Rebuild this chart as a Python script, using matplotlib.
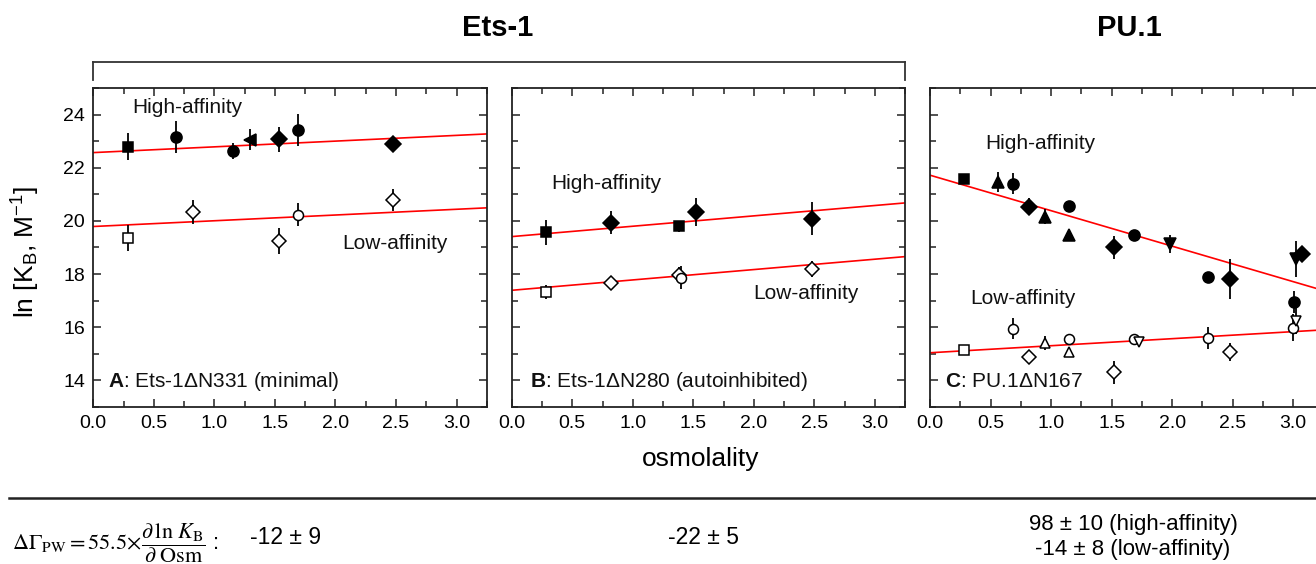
import matplotlib.pyplot as plt
from matplotlib.lines import Line2D
from matplotlib.ticker import MultipleLocator

plt.rcParams['font.family'] = ['Liberation Sans', 'DejaVu Sans']
plt.rcParams['mathtext.fontset'] = 'custom'
plt.rcParams['mathtext.rm'] = 'Liberation Sans'
plt.rcParams['mathtext.it'] = 'Liberation Sans:italic'
plt.rcParams['mathtext.bf'] = 'Liberation Sans:bold'

# --- panel A: Ets-1 dN331 (minimal) ---
a_hi_x = [0.285, 0.685, 1.155, 1.298, 1.533, 1.69, 2.477]
a_hi_y = [22.79, 23.14, 22.62, 23.06, 23.07, 23.41, 22.91]
a_hi_err = [0.5, 0.6, 0.3, 0.4, 0.48, 0.6, 0.15]
a_hi_sym = ['s', 'o', 'o', '<', 'D', 'o', 'D']
a_lo_x = [0.285, 0.823, 1.533, 1.69, 2.477]
a_lo_y = [19.35, 20.33, 19.24, 20.24, 20.79]
a_lo_err = [0.49, 0.45, 0.5, 0.45, 0.42]
a_lo_sym = ['s', 'D', 'D', 'o', 'D']
a_fit = [(22.57, 0.216), (19.79, 0.216)]  # (intercept, slope)

# --- panel B: Ets-1 dN280 (autoinhibited) ---
b_hi_x = [0.282, 0.823, 1.38, 1.524, 2.477]
b_hi_y = [19.58, 19.94, 19.79, 20.33, 20.09]
b_hi_err = [0.47, 0.43, 0.22, 0.54, 0.62]
b_hi_sym = ['s', 'D', 's', 'D', 'D']
b_lo_x = [0.282, 0.823, 1.38, 1.40, 2.477]
b_lo_y = [17.33, 17.66, 17.97, 17.87, 18.19]
b_lo_err = [0.27, 0.26, 0.3, 0.42, 0.3]
b_lo_sym = ['s', 'D', 'D', 'o', 'D']
b_fit = [(19.41, 0.39), (17.39, 0.39)]

# --- panel C: PU.1 dN167 ---
c_hi_x = [0.282, 0.563, 0.682, 0.82, 0.953, 1.152, 1.152, 1.519, 1.685, 1.98,
          2.292, 2.48, 3.024, 3.071, 3.005]
c_hi_y = [21.56, 21.45, 21.40, 20.54, 20.16, 20.56, 19.47, 19.0, 19.47, 19.14,
          17.89, 17.82, 18.57, 18.76, 16.95]
c_hi_err = [0.1, 0.38, 0.4, 0.32, 0.27, 0.1, 0.1, 0.44, 0.1, 0.34,
            0.15, 0.76, 0.68, 0.2, 0.4]
c_hi_sym = ['s', '^', 'o', 'D', '^', 'o', '^', 'D', 'o', 'v', 'o', 'D', 'v', 'D', 'o']
c_lo_x = [0.282, 0.682, 0.82, 0.953, 1.152, 1.152, 1.519, 1.685, 1.73, 2.292,
          2.48, 2.997, 3.024]
c_lo_y = [15.16, 15.95, 14.89, 15.41, 15.54, 15.06, 14.31, 15.57, 15.45, 15.6,
          15.08, 15.98, 16.23]
c_lo_err = [0.15, 0.39, 0.25, 0.25, 0.22, 0.1, 0.43, 0.1, 0.1, 0.41, 0.34, 0.5, 0.5]
c_lo_sym = ['s', 'o', 'D', '^', 'o', '^', 'D', 'o', 'v', 'o', 'D', 'o', 'v']
c_fit = [(21.72, -1.335), (15.04, 0.265)]

panel_titles = [r'$\mathbf{A}$: Ets-1ΔN331 (minimal)',
                r'$\mathbf{B}$: Ets-1ΔN280 (autoinhibited)',
                r'$\mathbf{C}$: PU.1ΔN167']
dgamma = ['-12 ± 9', '-22 ± 5', '98 ± 10 (high-affinity)\n-14 ± 8 (low-affinity)']

W, H = 1316, 564
fig = plt.figure(figsize=(W / 100, H / 100), dpi=100)

def fx(px):
    return px / W

def fy(py):
    return 1 - py / H

lefts = [93.3, 511.7, 930]
axw = 393.5
XMAX = 3.25
ink = '#222222'

def draw_points(ax, xs, ys, errs, syms, filled):
    for x, y, e, s in zip(xs, ys, errs, syms):
        ms = {'s': 7.5, 'o': 8, 'D': 7.8, '^': 8.5, 'v': 8.5, '<': 8.5}[s]
        if not filled:
            ms -= 0.8
        ax.errorbar(x, y, yerr=e, fmt=s, color='black', ecolor='black',
                    elinewidth=1.3, capsize=0, ms=ms,
                    mfc='black' if filled else 'white', mec='black', mew=1.1,
                    zorder=3)

panels = [
    (a_hi_x, a_hi_y, a_hi_err, a_hi_sym, a_lo_x, a_lo_y, a_lo_err, a_lo_sym, a_fit),
    (b_hi_x, b_hi_y, b_hi_err, b_hi_sym, b_lo_x, b_lo_y, b_lo_err, b_lo_sym, b_fit),
    (c_hi_x, c_hi_y, c_hi_err, c_hi_sym, c_lo_x, c_lo_y, c_lo_err, c_lo_sym, c_fit),
]
# label positions for the "High-affinity"/"Low-affinity" annotations
hi_pos = [(0.32, 24.28), (0.33, 21.39), (0.46, 22.91)]
lo_pos = [(2.056, 19.16), (1.995, 17.26), (0.336, 17.1)]

axes = []
for i, (hx, hy, he, hs, lx, ly, le, ls, fit) in enumerate(panels):
    ax = fig.add_axes([fx(lefts[i]), fy(407), axw / W, (407 - 88) / H])
    axes.append(ax)
    for b0, m in fit:
        ax.plot([0, XMAX], [b0, b0 + m * XMAX], color='red', lw=1.2, zorder=2)
    draw_points(ax, hx, hy, he, hs, True)
    draw_points(ax, lx, ly, le, ls, False)
    ax.set_xlim(0, XMAX)
    ax.set_ylim(13, 25)
    ax.xaxis.set_major_locator(MultipleLocator(0.5))
    ax.xaxis.set_minor_locator(MultipleLocator(0.25))
    ax.yaxis.set_major_locator(MultipleLocator(2))
    ax.yaxis.set_minor_locator(MultipleLocator(1))
    ax.tick_params(which='both', direction='in', top=True, right=True,
                   color=ink, labelsize=14, pad=6)
    ax.tick_params(which='major', length=6, width=1.1)
    ax.tick_params(which='minor', length=4, width=1.1)
    ax.xaxis.set_major_formatter(plt.FormatStrFormatter('%.1f'))
    for sp in ax.spines.values():
        sp.set_color(ink)
        sp.set_linewidth(1.3)
    if i > 0:
        ax.set_yticklabels([])
    ax.text(*hi_pos[i], 'High-affinity', fontsize=15, va='center', color='#111111')
    ax.text(*lo_pos[i], 'Low-affinity', fontsize=15, va='center', color='#111111')
    ax.text(0.124 if i != 1 else 0.151, 13.97, panel_titles[i], fontsize=15,
            va='center', color='#111111')

# axis titles
fig.text(fx(26), fy(252), r'ln [K$_\mathrm{B}$, M$^\mathrm{-1}$]', rotation=90,
         fontsize=19, ha='center', va='center')
fig.text(fx(701), fy(459), 'osmolality', fontsize=19, ha='center', va='center')

# group headings and bracket
fig.text(fx(498), fy(28), 'Ets-1', fontsize=21, fontweight='bold', ha='center', va='center')
fig.text(fx(1129), fy(28), 'PU.1', fontsize=21, fontweight='bold', ha='center', va='center')
bk = dict(color='#333333', lw=1.3, transform=fig.transFigure)
fig.add_artist(Line2D([fx(93), fx(905)], [fy(62), fy(62)], **bk))
fig.add_artist(Line2D([fx(93), fx(93)], [fy(62), fy(80)], **bk))
fig.add_artist(Line2D([fx(905), fx(905)], [fy(62), fy(80)], **bk))

# bottom table
fig.add_artist(Line2D([fx(9), fx(1316)], [fy(498), fy(498)], color='#222222',
                      lw=1.8, transform=fig.transFigure))
fig.text(fx(12), fy(543),
         r'$\Delta\Gamma_{\mathrm{PW}} = 55.5\!\times\!\dfrac{\partial\,\ln\,K_{\mathrm{B}}}{\partial\;\mathrm{Osm}}$ :',
         math_fontfamily='stix', fontsize=16, ha='left', va='center')
fig.text(fx(250), fy(538), dgamma[0], fontsize=16.5, ha='left', va='center')
fig.text(fx(668), fy(538), dgamma[1], fontsize=16.5, ha='left', va='center')
fig.text(fx(1133), fy(537), dgamma[2], fontsize=16, ha='center', va='center',
         linespacing=1.2)

fig.savefig('out.png', dpi=100)
